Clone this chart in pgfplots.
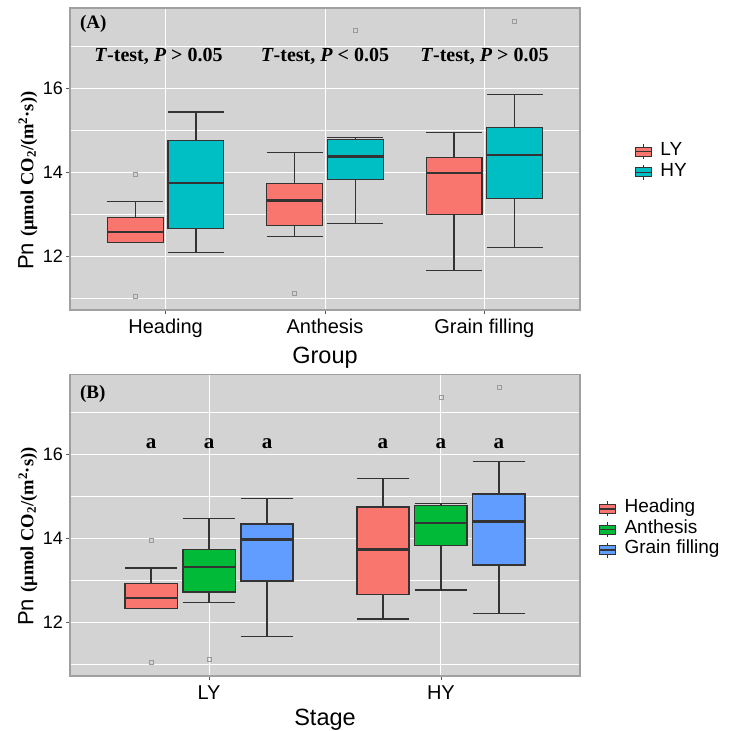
\documentclass[border=0pt]{standalone}
\usepackage{fontspec}
\setmainfont{Liberation Sans}
\newfontfamily\serifb{Liberation Serif}
\usepackage{pgfplots}
\pgfplotsset{compat=1.18}
\usepgfplotslibrary{statistics}
\definecolor{bggray}{HTML}{D3D3D3}
\definecolor{bordergray}{HTML}{A0A0A0}
\definecolor{boxline}{HTML}{333333}
\definecolor{cred}{HTML}{F8766D}
\definecolor{ccyan}{HTML}{00BFC4}
\definecolor{cgreen}{HTML}{00BA38}
\definecolor{cblue}{HTML}{619CFF}
\definecolor{outl}{HTML}{9A9A9A}

\pgfplotsset{
  gg/.style={
    scale only axis, width=510pt,
    ymin=10.73, ymax=17.9,
    ytick={12,14,16}, minor ytick={11,13,15,17},
    xmajorgrids, ymajorgrids, yminorgrids,
    major grid style={white, line width=0.9pt},
    minor grid style={white, line width=0.45pt},
    axis background/.style={fill=bggray},
    axis line style={draw=bordergray, line width=1.5pt},
    tick align=outside, tick pos=left,
    major tick length=4pt, minor tick length=0pt,
    tick style={draw=gray!70!black, line width=0.8pt},
    /pgf/number format/assume math mode=true,
    yticklabel style={font=\fontsize{18}{18}\selectfont, inner sep=0pt, xshift=-3pt},
    xticklabel style={font=\fontsize{20}{20}\selectfont, inner sep=0pt, text height=14.5pt, text depth=4pt, yshift=-5pt},
    ylabel={\fontsize{22}{22}\selectfont Pn {\serifb\bfseries\fontsize{18.5}{18.5}\selectfont (µmol CO\textsubscript{2}/(m\textsuperscript{2}·s))}},
    xlabel style={font=\fontsize{23.5}{23.5}\selectfont, anchor=base},
    boxplot/draw direction=y,
    legend style={draw=none, fill=none, inner sep=0pt, outer sep=0pt,
      font=\fontsize{19}{19}\selectfont, row sep=0pt, column sep=8pt,
      nodes={inner sep=0pt, text height=14pt, text depth=6.6pt}},
    legend cell align=left,
  },
  bx/.style n args={3}{forget plot, mark=square, mark size=2pt,
    mark options={draw=outl, fill=none, line width=0.6pt, solid},
    boxplot/every box/.style={draw=boxline, line width=1.3pt, fill=#1},
    boxplot/every whisker/.style={draw=boxline, line width=1.3pt},
    boxplot/every median/.style={draw=boxline, line width=2.4pt},
    boxplot/draw position=#2, boxplot/box extend=#3, boxplot/whisker extend=#3},
}
\newcommand{\lgimg}[1]{\addlegendimage{legend image code/.code={
  \draw[boxline, line width=0.8pt] (8pt,-7.5pt) -- (8pt,7.5pt);
  \draw[boxline, line width=0.8pt, fill=#1] (0pt,-4.5pt) rectangle (16pt,4.5pt);
  \draw[boxline, line width=1.4pt] (0pt,0pt) -- (16pt,0pt);
}}}

\begin{document}
\begin{tikzpicture}
\useasboundingbox (0,0) rectangle (729pt,-731pt);
% ---------------- Panel A ----------------
\begin{axis}[gg, at={(70pt,-8pt)}, anchor=north west, height=302pt,
  xmin=0.4, xmax=3.6, xtick={1,2,3}, xticklabels={Heading,Anthesis,Grain filling},
  xlabel={Group}, xlabel style={at={(axis description cs:0.5,-0.177)}},
  ylabel style={at={(axis description cs:-0.072,0.428)}, anchor=base},
  legend style={at={(axis description cs:1.108,0.49)}, anchor=west}]
\lgimg{cred}\addlegendentry{LY}
\lgimg{ccyan}\addlegendentry{HY}
% Heading
\addplot[bx={cred}{0.81}{0.35}, boxplot prepared={lower whisker=12.34, lower quartile=12.34, median=12.58, upper quartile=12.93, upper whisker=13.30}] coordinates {(0,13.96) (0,11.06)};
\addplot[bx={ccyan}{1.19}{0.35}, boxplot prepared={lower whisker=12.09, lower quartile=12.67, median=13.74, upper quartile=14.75, upper whisker=15.43}] coordinates {};
% Anthesis
\addplot[bx={cred}{1.81}{0.35}, boxplot prepared={lower whisker=12.48, lower quartile=12.73, median=13.33, upper quartile=13.74, upper whisker=14.47}] coordinates {(0,11.13)};
\addplot[bx={ccyan}{2.19}{0.35}, boxplot prepared={lower whisker=12.78, lower quartile=13.83, median=14.37, upper quartile=14.78, upper whisker=14.83}] coordinates {(0,17.37)};
% Grain filling
\addplot[bx={cred}{2.81}{0.35}, boxplot prepared={lower whisker=11.67, lower quartile=12.99, median=13.98, upper quartile=14.35, upper whisker=14.95}] coordinates {};
\addplot[bx={ccyan}{3.19}{0.35}, boxplot prepared={lower whisker=12.22, lower quartile=13.37, median=14.41, upper quartile=15.06, upper whisker=15.84}] coordinates {(0,17.59)};
\node[anchor=base west, font=\serifb\bfseries\fontsize{19}{19}\selectfont] at (rel axis cs:0.013,0.933) {(A)};
\begin{scope}[every node/.style={anchor=base, font=\serifb\bfseries\fontsize{20}{20}\selectfont}]
\node at (axis cs:0.955,16.63) {\textit{T}-test, \textit{P} > 0.05};
\node at (axis cs:2,16.63) {\textit{T}-test, \textit{P} < 0.05};
\node at (axis cs:3,16.63) {\textit{T}-test, \textit{P} > 0.05};
\end{scope}
\end{axis}
% ---------------- Panel B ----------------
\begin{axis}[gg, at={(70pt,-374.7pt)}, anchor=north west, height=301.3pt,
  xmin=0.4, xmax=2.6, xtick={1,2}, xticklabels={LY,HY},
  xlabel={Stage}, xlabel style={at={(axis description cs:0.5,-0.163)}},
  ylabel style={at={(axis description cs:-0.072,0.463)}, anchor=base},
  legend style={at={(axis description cs:1.0375,0.486)}, anchor=west}]
\lgimg{cred}\addlegendentry{Heading}
\lgimg{cgreen}\addlegendentry{Anthesis}
\lgimg{cblue}\addlegendentry{Grain filling}
% LY
\addplot[bx={cred}{0.75}{0.225}, boxplot prepared={lower whisker=12.34, lower quartile=12.34, median=12.58, upper quartile=12.93, upper whisker=13.30}] coordinates {(0,13.96) (0,11.06)};
\addplot[bx={cgreen}{1.0}{0.225}, boxplot prepared={lower whisker=12.48, lower quartile=12.73, median=13.33, upper quartile=13.74, upper whisker=14.47}] coordinates {(0,11.13)};
\addplot[bx={cblue}{1.25}{0.225}, boxplot prepared={lower whisker=11.67, lower quartile=12.99, median=13.98, upper quartile=14.35, upper whisker=14.95}] coordinates {};
% HY
\addplot[bx={cred}{1.75}{0.225}, boxplot prepared={lower whisker=12.09, lower quartile=12.67, median=13.74, upper quartile=14.75, upper whisker=15.43}] coordinates {};
\addplot[bx={cgreen}{2.0}{0.225}, boxplot prepared={lower whisker=12.78, lower quartile=13.83, median=14.37, upper quartile=14.78, upper whisker=14.83}] coordinates {(0,17.37)};
\addplot[bx={cblue}{2.25}{0.225}, boxplot prepared={lower whisker=12.22, lower quartile=13.37, median=14.41, upper quartile=15.06, upper whisker=15.84}] coordinates {(0,17.59)};
\node[anchor=base west, font=\serifb\bfseries\fontsize{19}{19}\selectfont] at (rel axis cs:0.013,0.922) {(B)};
\begin{scope}[every node/.style={anchor=base, font=\serifb\bfseries\fontsize{21}{21}\selectfont}]
\node at (axis cs:0.75,16.14) {a};
\node at (axis cs:1.0,16.14) {a};
\node at (axis cs:1.25,16.14) {a};
\node at (axis cs:1.75,16.14) {a};
\node at (axis cs:2.0,16.14) {a};
\node at (axis cs:2.25,16.14) {a};
\end{scope}
\end{axis}
\end{tikzpicture}
\end{document}
